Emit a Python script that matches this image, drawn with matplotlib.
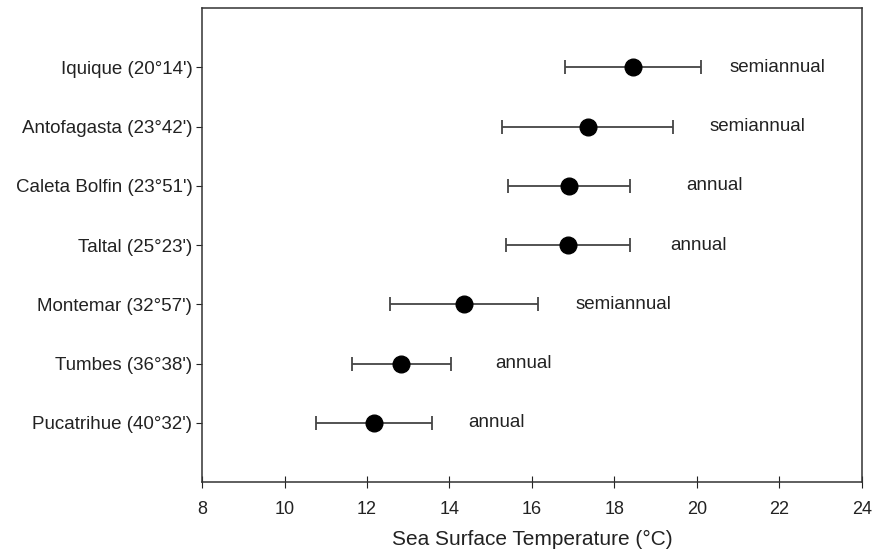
import numpy as np
import matplotlib.pyplot as plt

plt.rcParams['font.family'] = ['Liberation Sans', 'DejaVu Sans']

sites = ["Iquique (20°14')", "Antofagasta (23°42')", "Caleta Bolfin (23°51')",
         "Taltal (25°23')", "Montemar (32°57')", "Tumbes (36°38')", "Pucatrihue (40°32')"]
sst_mean = [18.45, 17.35, 16.9, 16.88, 14.35, 12.83, 12.17]
sst_err = [1.65, 2.08, 1.47, 1.5, 1.8, 1.2, 1.4]
cycle = ["semiannual", "semiannual", "annual", "annual", "semiannual", "annual", "annual"]
label_x = [20.8, 20.3, 19.75, 19.35, 17.05, 15.1, 14.45]

y = np.arange(len(sites), 0, -1)

fig = plt.figure(figsize=(8.76, 5.57), dpi=100)
ax = fig.add_axes([0.2306, 0.1346, 0.7534, 0.851])

ax.errorbar(sst_mean, y, xerr=sst_err, fmt='o', color='black', ms=12,
            ecolor='#444444', elinewidth=1.3, capsize=5, capthick=1.3)

for xi, yi, t in zip(label_x, y, cycle):
    ax.text(xi, yi, t, fontsize=13.5, color='#222222', va='center', ha='left')

ax.set_xlim(8, 24)
ax.set_ylim(0, 8)
ax.set_xticks(np.arange(8, 25, 2))
ax.set_yticks(y)
ax.set_yticklabels(sites)
ax.tick_params(axis='x', direction='inout', length=9, labelsize=13, colors='#222222', pad=9)
ax.tick_params(axis='y', direction='out', length=4, labelsize=13.5, colors='#222222', pad=3)
ax.set_xlabel('Sea Surface Temperature (°C)', fontsize=15, color='#222222', labelpad=9)
for s in ax.spines.values():
    s.set_color('#333333')
    s.set_linewidth(1.1)

fig.savefig('out.png', dpi=100)
